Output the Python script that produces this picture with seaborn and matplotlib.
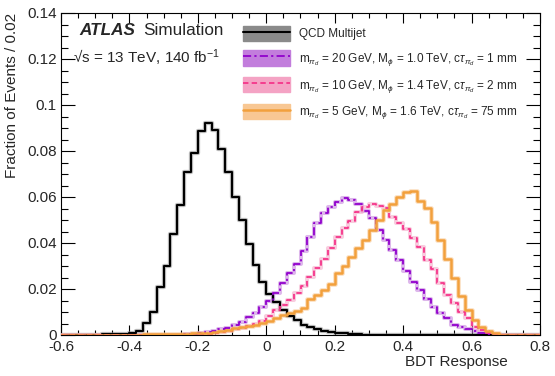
import numpy as np
import pandas as pd
import matplotlib
matplotlib.use("Agg")
import matplotlib.pyplot as plt
from matplotlib.patches import Patch
from matplotlib.lines import Line2D
from matplotlib.ticker import MultipleLocator, FuncFormatter
import seaborn as sns

# ---------------- data (fraction of events per 0.02 bin, 70 bins from -0.6 to 0.8) -------------
bin_lo, bin_hi, bin_w = -0.6, 0.8, 0.02

qcd_vals = [
    0.0001, 0.0001, 0.0001, 0.0001, 0.0002, 0.0002, 0.0003, 0.0003, 0.0004, 0.0005,
    0.0008, 0.0019, 0.0051, 0.0101, 0.0210, 0.0300, 0.0440, 0.0567, 0.0710, 0.0793,
    0.0887, 0.0923, 0.0891, 0.0810, 0.0707, 0.0600, 0.0500, 0.0394, 0.0304, 0.0230,
    0.0178, 0.0143, 0.0108, 0.0083, 0.0064, 0.0043, 0.0034, 0.0025, 0.0019, 0.0014,
    0.0010, 0.0007, 0.0005, 0.0003, 0.0002, 0.0002, 0.0001, 0.0001, 0.0001, 0.0001,
    0.0001, 0.0001, 0.0001, 0.0, 0.0, 0.0, 0.0, 0.0, 0.0, 0.0,
    0.0, 0.0, 0.0, 0.0, 0.0, 0.0, 0.0, 0.0, 0.0, 0.0,
]
sig20_vals = [
    0.0, 0.0, 0.0, 0.0, 0.0, 0.0, 0.0, 0.0, 0.0, 0.0,
    0.0, 0.0, 0.0, 0.0, 0.0, 0.0, 0.0001, 0.0002, 0.0003, 0.0005,
    0.0008, 0.0013, 0.0018, 0.0025, 0.0032, 0.0042, 0.0058, 0.0077, 0.0097, 0.0123,
    0.0150, 0.0184, 0.0225, 0.0268, 0.0310, 0.0367, 0.0428, 0.0486, 0.0529, 0.0555,
    0.0580, 0.0595, 0.0587, 0.0570, 0.0538, 0.0507, 0.0457, 0.0413, 0.0370, 0.0326,
    0.0280, 0.0232, 0.0196, 0.0155, 0.0123, 0.0097, 0.0072, 0.0045, 0.0033, 0.0025,
    0.0016, 0.0010, 0.0006, 0.0002, 0.0, 0.0, 0.0, 0.0, 0.0, 0.0,
]
sig10_vals = [
    0.0, 0.0, 0.0, 0.0, 0.0, 0.0, 0.0, 0.0, 0.0, 0.0,
    0.0, 0.0, 0.0, 0.0, 0.0, 0.0, 0.0, 0.0001, 0.0002, 0.0003,
    0.0004, 0.0006, 0.0009, 0.0013, 0.0018, 0.0024, 0.0030, 0.0038, 0.0048, 0.0062,
    0.0082, 0.0107, 0.0130, 0.0152, 0.0181, 0.0215, 0.0254, 0.0290, 0.0330, 0.0380,
    0.0427, 0.0464, 0.0497, 0.0533, 0.0555, 0.0570, 0.0561, 0.0550, 0.0514, 0.0486,
    0.0460, 0.0420, 0.0384, 0.0326, 0.0286, 0.0225, 0.0174, 0.0140, 0.0101, 0.0072,
    0.0036, 0.0022, 0.0010, 0.0004, 0.0, 0.0, 0.0, 0.0, 0.0, 0.0,
]
sig5_vals = [
    0.0001, 0.0001, 0.0001, 0.0001, 0.0001, 0.0001, 0.0001, 0.0001, 0.0001, 0.0001,
    0.0002, 0.0002, 0.0003, 0.0003, 0.0004, 0.0004, 0.0005, 0.0005, 0.0006, 0.0007,
    0.0009, 0.0010, 0.0015, 0.0018, 0.0022, 0.0030, 0.0036, 0.0040, 0.0045, 0.0053,
    0.0063, 0.0072, 0.0085, 0.0095, 0.0105, 0.0117, 0.0155, 0.0175, 0.0195, 0.0220,
    0.0268, 0.0300, 0.0340, 0.0377, 0.0413, 0.0457, 0.0500, 0.0543, 0.0570, 0.0601,
    0.0622, 0.0627, 0.0584, 0.0551, 0.0493, 0.0413, 0.0330, 0.0246, 0.0170, 0.0109,
    0.0065, 0.0036, 0.0019, 0.0007, 0.0002, 0.0, 0.0, 0.0, 0.0, 0.0,
]

labels = [
    "QCD Multijet",
    r"m$_{\pi_{d}}$ = 20 GeV, M$_{\phi}$ = 1.0 TeV, c$\tau_{\pi_{d}}$ = 1 mm",
    r"m$_{\pi_{d}}$ = 10 GeV, M$_{\phi}$ = 1.4 TeV, c$\tau_{\pi_{d}}$ = 2 mm",
    r"m$_{\pi_{d}}$ = 5 GeV, M$_{\phi}$ = 1.6 TeV, c$\tau_{\pi_{d}}$ = 75 mm",
]
series = [qcd_vals, sig20_vals, sig10_vals, sig5_vals]

x_ticks = [-0.6, -0.4, -0.2, 0.0, 0.2, 0.4, 0.6, 0.8]
y_ticks = [0.0, 0.02, 0.04, 0.06, 0.08, 0.10, 0.12, 0.14]

# ---------------- styles ----------------
line_colors = ["#000000", "#9100cc", "#f5358a", "#f2a03c"]
band_colors = ["#8a8a8a", "#c27ddc", "#f4a3c4", "#f8c793"]
line_styles = ["-", (0, (4.5, 1.8, 1.2, 1.8)), (0, (3.0, 1.8)), "-"]
line_widths = [1.5, 1.3, 1.3, 1.8]

sns.set_style("ticks")
plt.rcParams["font.family"] = ["Liberation Sans", "DejaVu Sans"]
plt.rcParams["mathtext.fontset"] = "custom"
plt.rcParams["mathtext.rm"] = "Liberation Sans"
plt.rcParams["mathtext.it"] = "Liberation Sans:italic"
plt.rcParams["mathtext.bf"] = "Liberation Sans:bold"

fig = plt.figure(figsize=(5.55, 3.76), dpi=100)
ax = fig.add_axes([61 / 555, 1 - 335 / 376, (540 - 61) / 555, (335 - 13) / 376])

edges = [round(v, 4) for v in np.arange(bin_lo, bin_hi + bin_w / 2, bin_w)]
centers = [(a + b) / 2 for a, b in zip(edges[:-1], edges[1:])]

handles = []
for k, vals in enumerate(series):
    df = pd.DataFrame({"x": centers, "w": vals})
    # uncertainty band (drawn as a thin halo)
    sns.histplot(data=df, x="x", weights="w", bins=edges, element="step", fill=False,
                 color=band_colors[k], linewidth=line_widths[k] + 1.6, alpha=0.55,
                 ax=ax, zorder=2 + k)
for k, vals in enumerate(series):
    df = pd.DataFrame({"x": centers, "w": vals})
    sns.histplot(data=df, x="x", weights="w", bins=edges, element="step", fill=False,
                 color=line_colors[k], linewidth=line_widths[k], linestyle=line_styles[k],
                 ax=ax, zorder=10 + k)
    handles.append((Patch(facecolor=band_colors[k], edgecolor=band_colors[k]),
                    Line2D([], [], color=line_colors[k], linestyle=line_styles[k],
                           linewidth=line_widths[k])))

ax.set_xlim(bin_lo, bin_hi)
ax.set_ylim(0, 0.14)
ax.set_xticks(x_ticks)
ax.set_yticks(y_ticks)
ax.xaxis.set_minor_locator(MultipleLocator(0.05))
ax.yaxis.set_minor_locator(MultipleLocator(0.005))
fmt = FuncFormatter(lambda v, p: "{:g}".format(round(v, 4)))
ax.xaxis.set_major_formatter(fmt)
ax.yaxis.set_major_formatter(fmt)

ax.tick_params(which="both", direction="in", top=True, right=True, labelsize=11,
               color="black", width=0.8)
ax.tick_params(axis="x", which="major", length=7, pad=3.5)
ax.tick_params(axis="x", which="minor", length=3.5)
ax.tick_params(axis="y", which="major", length=10, pad=3)
ax.tick_params(axis="y", which="minor", length=5)
for s in ax.spines.values():
    s.set_linewidth(0.8)
    s.set_color("black")

ax.set_xlabel("BDT Response", fontsize=11, ha="right")
ax.xaxis.set_label_coords((508 - 61) / 479, -(362 - 335) / 322)
ax.xaxis.label.set_va("center")
ax.set_ylabel("Fraction of Events / 0.02", fontsize=11, ha="right")
ax.yaxis.set_label_coords(-(61 - 12) / 479, 1.0)
ax.yaxis.label.set_va("center")

ax.text((79 - 61) / 479, 1 - (35 - 13) / 322, "ATLAS", transform=ax.transAxes,
        fontsize=12.3, fontweight="bold", fontstyle="italic", va="baseline", ha="left")
ax.text((143 - 61) / 479, 1 - (35 - 13) / 322, "Simulation", transform=ax.transAxes,
        fontsize=12.3, va="baseline", ha="left")
ax.text((73 - 61) / 479, 1 - (63 - 13) / 322, "\u221as = 13 TeV, 140 fb$^{-1}$",
        transform=ax.transAxes, fontsize=11, va="baseline", ha="left")

leg = ax.legend(handles, labels, loc="upper left",
                bbox_to_anchor=((243 - 61) / 479, 1 - (26 - 13) / 322),
                frameon=False, fontsize=8.5, handlelength=4.0, handleheight=1.6,
                labelspacing=0.78, handletextpad=0.75, borderpad=0, borderaxespad=0)
leg.set_zorder(30)

fig.savefig("out.png", dpi=100)
